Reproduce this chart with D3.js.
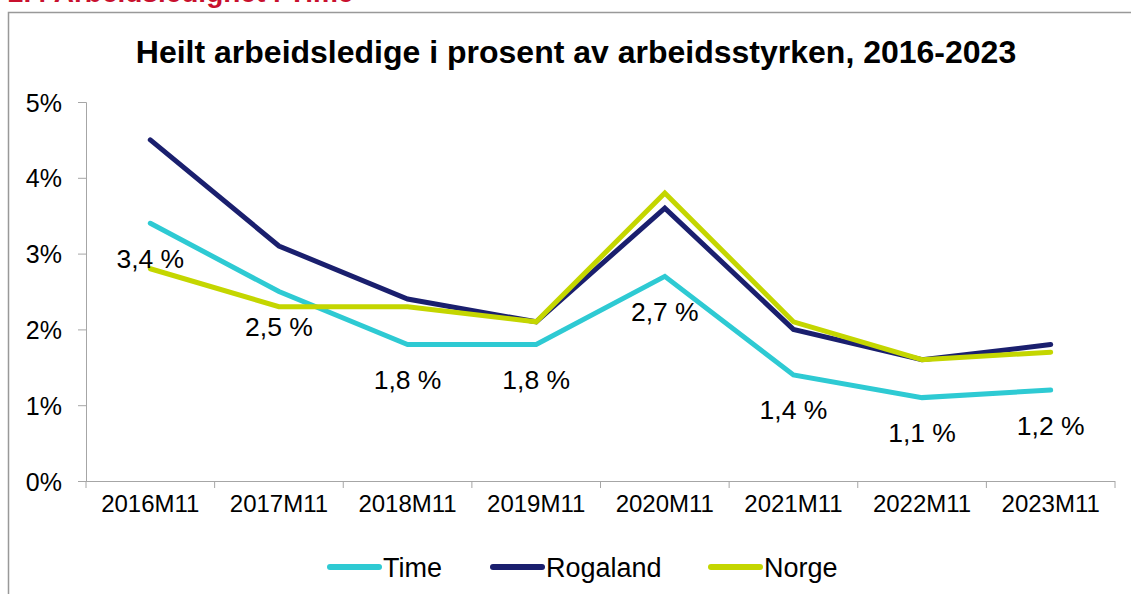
<!DOCTYPE html>
<html><head><meta charset="utf-8">
<script src="https://cdn.jsdelivr.net/npm/d3@7"></script>
<style>body{margin:0;background:#fff}svg{display:block}text{font-family:"Liberation Sans",Arial,sans-serif}</style>
</head><body>
<script>
const categories = ["2016M11","2017M11","2018M11","2019M11","2020M11","2021M11","2022M11","2023M11"];
const time = [3.4, 2.5, 1.8, 1.8, 2.7, 1.4, 1.1, 1.2];
const rogaland = [4.5, 3.1, 2.4, 2.1, 3.6, 2.0, 1.6, 1.8];
const norge = [2.8, 2.3, 2.3, 2.1, 3.8, 2.1, 1.6, 1.7];
const seriesNames = ["Time","Rogaland","Norge"];
const seriesColors = ["#2ecad3","#1a1f6e","#c4d600"];
const yTicks = [0,1,2,3,4,5];
const timeLabels = ["3,4 %","2,5 %","1,8 %","1,8 %","2,7 %","1,4 %","1,1 %","1,2 %"];

const W=1131,H=594;
const svg=d3.select("body").append("svg").attr("width",W).attr("height",H);
// section heading, clipped at top as in the reference
svg.append("text").attr("x",8).attr("y",2).attr("fill","#c8102e").attr("font-weight","bold")
  .attr("font-size",28).text("2.4 Arbeidsledighet i Time");
// frame
svg.append("path").attr("d",`M8.5,${H} V12.5 H${W}`).attr("fill","none").attr("stroke","#999").attr("stroke-width",1.5);

const x=d3.scaleBand().domain(categories).range([86,1115]);
const y=d3.scaleLinear().domain([0,5]).range([481,102]);

svg.append("text").attr("x",576).attr("y",63).attr("text-anchor","middle").attr("font-weight","bold")
  .attr("font-size",32).text("Heilt arbeidsledige i prosent av arbeidsstyrken, 2016-2023");

// y axis
const ya=svg.append("g").attr("transform","translate(86,0)").call(d3.axisLeft(y).tickValues(yTicks).tickSize(8).tickPadding(16).tickFormat(d=>d+"%"));
ya.selectAll("text").attr("font-size",25).attr("fill","#000").attr("dy","0.36em");
ya.selectAll("line,path").attr("stroke","#a6a6a6");
// x axis
const xa=svg.append("g").attr("transform","translate(0,481)").call(d3.axisBottom(x).tickSize(0).tickPadding(20));
xa.selectAll("text").attr("font-size",24).attr("fill","#000").attr("dy","0.45em");
xa.select("path").attr("stroke","#a6a6a6").attr("d","M86,0.5H1115");
// boundary ticks
const bounds=categories.map(c=>x(c)).concat([x.range()[1]]);
svg.append("g").selectAll("line").data(bounds).join("line")
  .attr("x1",d=>d).attr("x2",d=>d).attr("y1",481).attr("y2",488).attr("stroke","#a6a6a6");

const data=[time,rogaland,norge];
const line=d3.line().x((d,i)=>x(categories[i])+x.bandwidth()/2).y(d=>y(d));
data.forEach((s,k)=>{
  svg.append("path").datum(s).attr("d",line).attr("fill","none").attr("stroke",seriesColors[k])
    .attr("stroke-width",5).attr("stroke-linejoin","miter").attr("stroke-linecap","round");
});
// labels for Time
svg.append("g").selectAll("text").data(time).join("text")
  .attr("x",(d,i)=>x(categories[i])+x.bandwidth()/2).attr("y",d=>y(d)+35).attr("dy","0.36em")
  .attr("text-anchor","middle").attr("font-size",26.5).text((d,i)=>timeLabels[i]);

// legend
const legX=[327,490,708];
seriesNames.forEach((n,k)=>{
  svg.append("line").attr("x1",legX[k]+3).attr("x2",legX[k]+52).attr("y1",567).attr("y2",567)
    .attr("stroke",seriesColors[k]).attr("stroke-width",6).attr("stroke-linecap","round");
  svg.append("text").attr("x",legX[k]+56).attr("y",567).attr("dy","0.36em").attr("font-size",27).text(n);
});
</script>
</body></html>
